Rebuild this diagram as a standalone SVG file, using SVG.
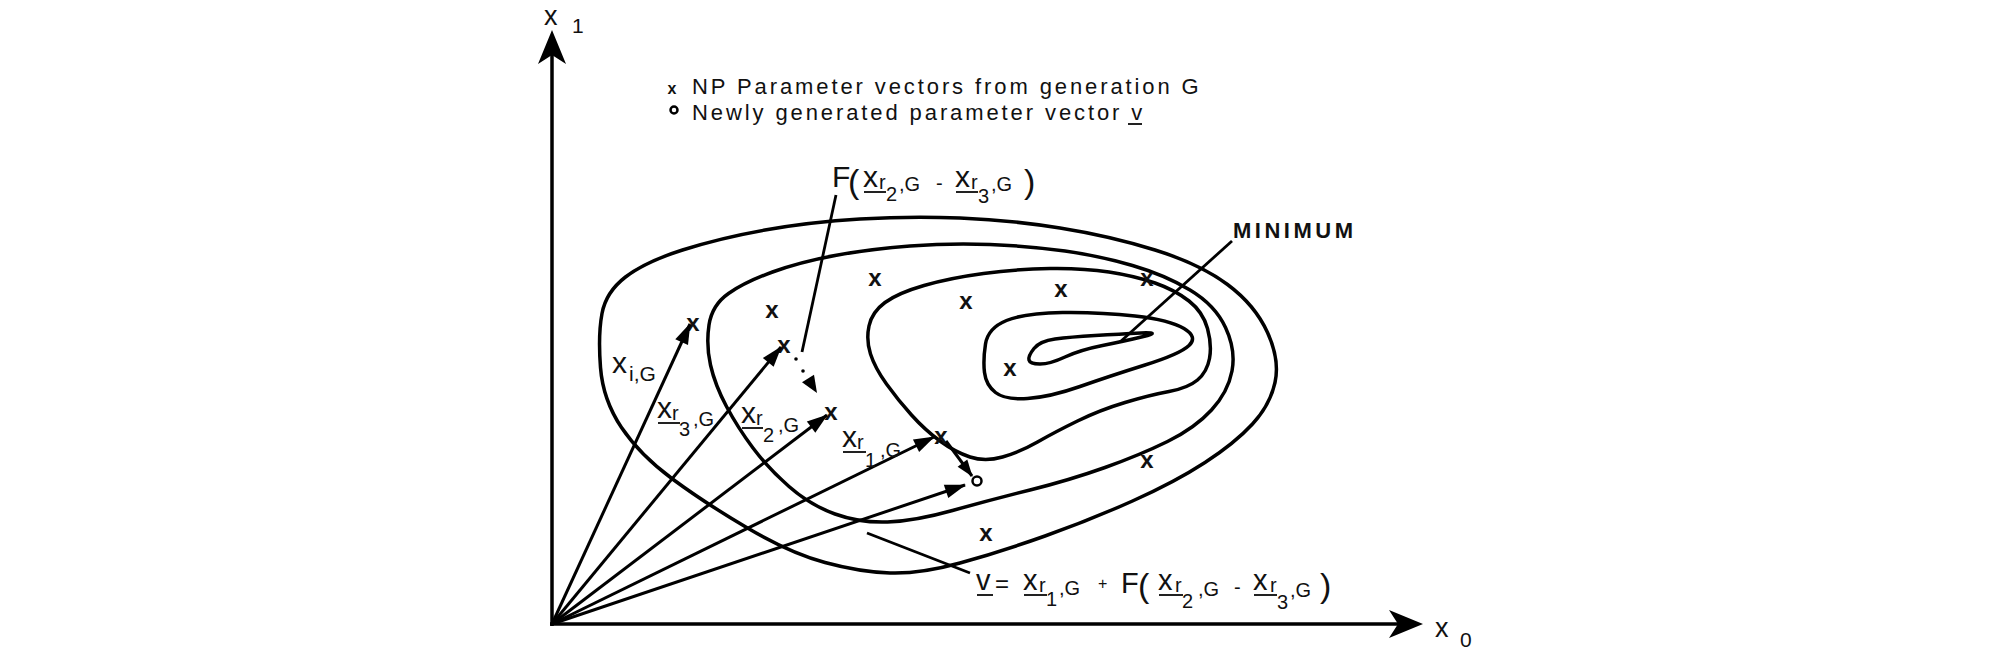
<svg xmlns="http://www.w3.org/2000/svg" width="2008" height="653" viewBox="0 0 2008 653">
<defs>
<style>
text{font-family:"Liberation Sans",Arial,sans-serif;fill:#111}
.ax{stroke:#000;stroke-width:3.5;fill:none}
.ct{stroke:#000;stroke-width:3.5;fill:none;stroke-linejoin:round}
.vec{stroke:#000;stroke-width:3;fill:none;marker-end:url(#ah)}
.ld{stroke:#000;stroke-width:2.8;fill:none}
.ul{stroke:#222;stroke-width:2;fill:none}
.hd{fill:#000;stroke:none}
.mk{font-weight:bold;font-size:24px;text-anchor:middle}
.b{font-size:30px}
.s{font-size:20px}
.g{font-size:20px}
.lg{font-size:22px;letter-spacing:2.9px}
</style>
<marker id="ah" markerUnits="userSpaceOnUse" markerWidth="24" markerHeight="18" viewBox="-22 -9 24 18" refX="0" refY="0" orient="auto">
<path d="M1,0 L-20,-7 L-20,7 Z" fill="#000"/>
</marker>
<marker id="ah2" markerUnits="userSpaceOnUse" markerWidth="20" markerHeight="16" viewBox="-18 -8 20 16" refX="0" refY="0" orient="auto">
<path d="M1,0 L-16,-6 L-16,6 Z" fill="#000"/>
</marker>
</defs>
<rect width="2008" height="653" fill="#fff"/>

<g id="axes">
<line class="ax" x1="552" y1="626" x2="552" y2="50"/>
<line class="ax" x1="550" y1="624" x2="1400" y2="624"/>
<path class="hd" d="M552,30 L566,64 L552,55 L538,64 Z"/>
<path class="hd" d="M1423,624 L1389,610 L1398,624 L1389,638 Z"/>
<text x="544" y="25" style="font-size:27px">x<tspan x="572" y="33" style="font-size:21px">1</tspan></text>
<text x="1435" y="637" style="font-size:27px">x<tspan x="1460" y="647" style="font-size:21px">0</tspan></text>
</g>

<g id="legend">
<text class="mk" x="672" y="94" style="font-size:16px">x</text>
<text class="lg" x="692" y="94">NP Parameter vectors from generation G</text>
<circle cx="674" cy="110" r="3.5" fill="none" stroke="#000" stroke-width="2.5"/>
<text class="lg" x="692" y="120">Newly generated parameter vector v</text>
<line class="ul" x1="1128" y1="124" x2="1142" y2="124"/>
</g>

<g id="contours">
<path id="contour-1" class="ct" d="M 602,313.5 Q 606,292 625.5,277 Q 645,262 682.5,250 Q 720,238 765,230 Q 810,222 860,219 Q 910,216 960,218 Q 1010,220 1060,228 Q 1110,236 1155,250 Q 1200,264 1227.5,284.5 Q 1255,305 1267.5,332.5 Q 1280,360 1275,382.5 Q 1270,405 1252.5,424 Q 1235,443 1205,462.5 Q 1175,482 1132.5,501 Q 1090,520 1045,536 Q 1000,552 960,563 Q 920,574 890,573 Q 860,572 825,562.5 Q 790,553 747.5,528 Q 705,503 672.5,479 Q 640,455 621.5,427.5 Q 603,400 600.5,367.5 Q 598,335 602,313.5 Z"/>
<path id="contour-2" class="ct" d="M 709,325 Q 712,305 728.5,293.5 Q 745,282 772.5,272 Q 800,262 835,255.5 Q 870,249 910,246 Q 950,243 990,244.5 Q 1030,246 1065,251 Q 1100,256 1132.5,265.5 Q 1165,275 1190,290 Q 1215,305 1225.5,327.5 Q 1236,350 1232,371 Q 1228,392 1211.5,410 Q 1195,428 1167.5,441.5 Q 1140,455 1105,467.5 Q 1070,480 1030,490 Q 990,500 952.5,510.5 Q 915,521 887.5,522 Q 860,523 835,514 Q 810,505 789,486.5 Q 768,468 753,448 Q 738,428 726.5,406.5 Q 715,385 710.5,365 Q 706,345 709,325 Z"/>
<path id="contour-3" class="ct" d="M 869,326 Q 872,312 885,302.5 Q 898,293 924,285.5 Q 950,278 983.5,273.5 Q 1017,269 1050,268.5 Q 1083,268 1109,272 Q 1135,276 1155,283 Q 1175,290 1189,301 Q 1203,312 1207.5,328.5 Q 1212,345 1209.5,358.5 Q 1207,372 1197.5,380 Q 1188,388 1169,391.5 Q 1150,395 1125,402.5 Q 1100,410 1077.5,421 Q 1055,432 1037.5,442 Q 1020,452 1002.5,457 Q 985,462 970,457 Q 955,452 940,441 Q 925,430 911.5,415 Q 898,400 886.5,384 Q 875,368 870.5,354 Q 866,340 869,326 Z"/>
<path id="contour-4" class="ct" d="M 985.5,344 Q 988,328 1006.5,320.5 Q 1025,313 1062.5,312.5 Q 1100,312 1135,316 Q 1170,320 1184,328.5 Q 1198,337 1189,345.5 Q 1180,354 1145,365 Q 1110,376 1080,386.5 Q 1050,397 1027.5,398.5 Q 1005,400 995.5,392.5 Q 986,385 984.5,372.5 Q 983,360 985.5,344 Z"/>
<path id="contour-5" class="ct" d="M 1034,348.5 Q 1040,341 1055,339 Q 1070,337 1095,335.5 Q 1120,334 1141,333 Q 1162,332 1143.5,336.5 Q 1125,341 1102.5,345.5 Q 1080,350 1065,357 Q 1050,364 1040,364 Q 1030,364 1029,360 Q 1028,356 1034,348.5 Z"/>
</g>

<g id="points">
<text class="mk" x="875" y="286">x</text>
<text class="mk" x="772" y="318">x</text>
<text class="mk" x="966" y="309">x</text>
<text class="mk" x="1061" y="297">x</text>
<text class="mk" x="1147" y="286">x</text>
<text class="mk" x="693" y="331">x</text>
<text class="mk" x="784" y="353">x</text>
<text class="mk" x="831" y="420">x</text>
<text class="mk" x="1010" y="376">x</text>
<text class="mk" x="941" y="444">x</text>
<text class="mk" x="1147" y="468">x</text>
<text class="mk" x="986" y="541">x</text>
<circle id="v-point" cx="977" cy="481" r="4.5" fill="none" stroke="#000" stroke-width="2.5"/>
</g>

<g id="connectors">
<line class="vec" x1="552" y1="624" x2="690" y2="324"/>
<line class="vec" x1="552" y1="624" x2="781" y2="347"/>
<line class="vec" x1="552" y1="624" x2="827" y2="415"/>
<line class="vec" x1="552" y1="624" x2="934" y2="437"/>
<line class="vec" x1="552" y1="624" x2="965" y2="485"/>
<line class="vec" x1="946" y1="441" x2="972" y2="476" style="marker-end:url(#ah2)"/>
<line class="ld" x1="836" y1="195" x2="802" y2="352"/>
<circle cx="796" cy="359" r="1.8" fill="#000"/>
<circle cx="803" cy="371" r="1.8" fill="#000"/>
<path class="hd" d="M817,393 L814,374.8 L802,382.2 Z"/>
<line class="ld" x1="1232" y1="241" x2="1120" y2="342"/>
<line class="ld" x1="867" y1="533" x2="970" y2="573"/>
</g>

<g id="labels">
<g id="label-F">
<text class="b">
<tspan x="832" y="187">F</tspan>
<tspan x="848" y="193" style="font-size:34px">(</tspan>
<tspan x="863" y="187">x</tspan>
<tspan class="s" x="879" y="189">r</tspan>
<tspan class="s" x="886" y="201">2</tspan>
<tspan class="g" x="899" y="191">,G</tspan>
<tspan class="g" x="936" y="190">-</tspan>
<tspan x="955" y="187">x</tspan>
<tspan class="s" x="971" y="189">r</tspan>
<tspan class="s" x="978" y="203">3</tspan>
<tspan class="g" x="991" y="191">,G</tspan>
<tspan x="1024" y="193" style="font-size:34px">)</tspan>
</text>
<line class="ul" x1="864" y1="192" x2="886" y2="192"/>
<line class="ul" x1="956" y1="192" x2="978" y2="192"/>
</g>
<text id="label-xi" class="b"><tspan x="612" y="373">x</tspan><tspan style="font-size:21px" x="629" y="381">i,G</tspan></text>
<g id="label-xr3">
<text class="b"><tspan x="657" y="418">x</tspan><tspan class="s" x="672" y="420">r</tspan><tspan class="s" x="679" y="436">3</tspan><tspan class="g" x="693" y="426">,G</tspan></text>
<line class="ul" x1="658" y1="423" x2="680" y2="423"/>
</g>
<g id="label-xr2">
<text class="b"><tspan x="741" y="423">x</tspan><tspan class="s" x="756" y="425">r</tspan><tspan class="s" x="763" y="442">2</tspan><tspan class="g" x="778" y="432">,G</tspan></text>
<line class="ul" x1="742" y1="428" x2="763" y2="428"/>
</g>
<g id="label-xr1">
<text class="b"><tspan x="842" y="447">x</tspan><tspan class="s" x="857" y="449">r</tspan><tspan class="s" x="865" y="467">1</tspan><tspan class="g" x="880" y="457">,G</tspan></text>
<line class="ul" x1="843" y1="452" x2="866" y2="452"/>
</g>
<g id="label-v">
<text class="b" style="font-size:29px">
<tspan x="976" y="590">v</tspan>
<tspan x="995" y="592" style="font-size:24px">=</tspan>
<tspan x="1023" y="590">x</tspan>
<tspan class="s" x="1039" y="592">r</tspan>
<tspan class="s" x="1046" y="606">1</tspan>
<tspan class="g" x="1059" y="595">,G</tspan>
<tspan x="1098" y="589" style="font-size:16px">+</tspan>
<tspan x="1121" y="593">F</tspan>
<tspan x="1138" y="597" style="font-size:34px">(</tspan>
<tspan x="1158" y="590">x</tspan>
<tspan class="s" x="1175" y="592">r</tspan>
<tspan class="s" x="1182" y="608">2</tspan>
<tspan class="g" x="1198" y="596">,G</tspan>
<tspan class="g" x="1234" y="594">-</tspan>
<tspan x="1253" y="590">x</tspan>
<tspan class="s" x="1270" y="592">r</tspan>
<tspan class="s" x="1277" y="609">3</tspan>
<tspan class="g" x="1290" y="597">,G</tspan>
<tspan x="1320" y="597" style="font-size:34px">)</tspan>
</text>
<line class="ul" x1="977" y1="595" x2="993" y2="595"/>
<line class="ul" x1="1024" y1="595" x2="1047" y2="595"/>
<line class="ul" x1="1159" y1="595" x2="1183" y2="595"/>
<line class="ul" x1="1254" y1="595" x2="1277" y2="595"/>
</g>
<text id="label-min" x="1233" y="238" style="font-weight:bold;font-size:22px;letter-spacing:3.5px">MINIMUM</text>
</g>
</svg>
